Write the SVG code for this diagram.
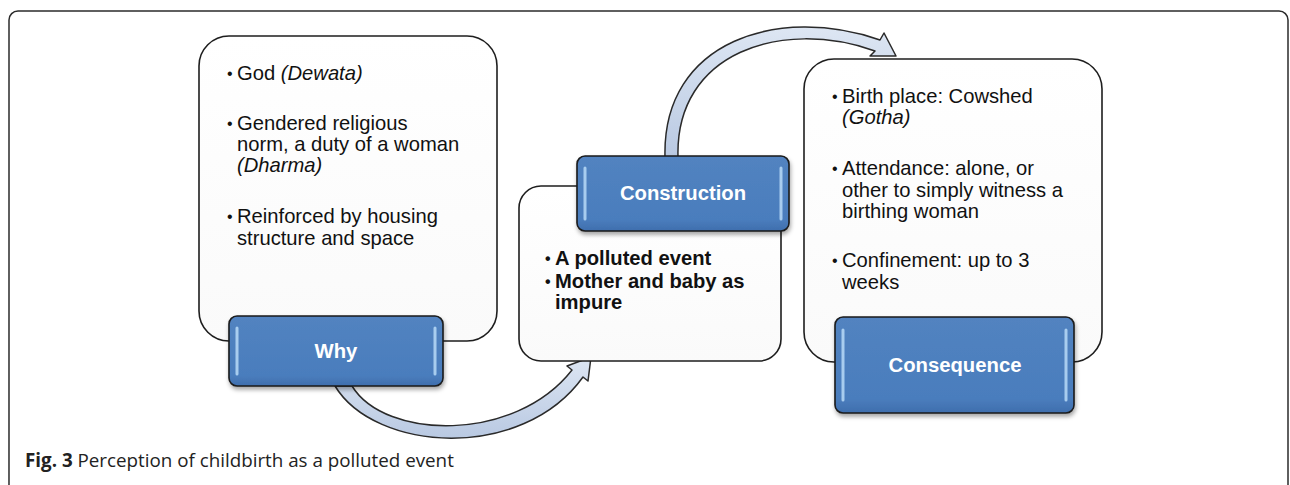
<svg xmlns="http://www.w3.org/2000/svg" width="1290" height="485" viewBox="0 0 1290 485">
<style>
.frame{fill:none;stroke:#2b2b2b;stroke-width:1.5}
.box{fill:url(#boxg);stroke:#1e1e1e;stroke-width:1.6}
.lbl{fill:url(#lblg);stroke:#1a1a1a;stroke-width:1.6;filter:url(#sh)}
.hl{stroke:#bfe0fb;stroke-width:3;stroke-linecap:round;opacity:0.8}
.lt{font-family:"Liberation Sans",Arial,sans-serif;font-weight:bold;font-size:20.3px;fill:#ffffff;text-anchor:middle}
.t{font-family:"Liberation Sans",Arial,sans-serif;font-size:20.2px;fill:#111}
.tb{font-family:"Liberation Sans",Arial,sans-serif;font-size:20.2px;font-weight:bold;fill:#111}
.bu{font-family:"Liberation Sans",Arial,sans-serif;font-size:16px;fill:#111}
.arrow{fill:url(#arrg);stroke:#2a2a2a;stroke-width:1.5;stroke-linejoin:round}
.cap{font-family:"Open Sans","Noto Sans",sans-serif;font-size:18.8px;fill:#222}
</style>
<defs>
<linearGradient id="boxg" x1="0" y1="0" x2="0" y2="1"><stop offset="0" stop-color="#ffffff"/><stop offset="1" stop-color="#fafafa"/></linearGradient>
<linearGradient id="lblg" x1="0" y1="0" x2="0" y2="1"><stop offset="0" stop-color="#5283c0"/><stop offset="0.85" stop-color="#4a7dbd"/><stop offset="1" stop-color="#3f6ead"/></linearGradient>
<linearGradient id="arrg" x1="0" y1="0" x2="0" y2="1"><stop offset="0" stop-color="#dde6f3"/><stop offset="1" stop-color="#b9c9e2"/></linearGradient>
<filter id="sh" x="-10%" y="-10%" width="125%" height="135%"><feDropShadow dx="1" dy="3" stdDeviation="2" flood-color="#000" flood-opacity="0.35"/></filter>
</defs>
<rect class="frame" x="9" y="11" width="1279" height="490" rx="9"/>
<g id="connectors">
<path class="arrow" d="M665,157 C662,40 780,5 880,40 L884,33 L896,56 L870,56 L875,51 C782,18 675,52 678,157 Z"/>
<path class="arrow" d="M335,386 C375,452 522,462 583,377 L588,381 L591,357 L567,366 L572,370 C515,443 385,440 352,386 Z"/>
</g>
<g id="why">
<rect class="box" x="199" y="36" width="298" height="305" rx="30"/>
<text class="bu" x="227" y="79">•</text><text class="t" x="237" y="80">God <tspan font-style="italic">(Dewata)</tspan></text>
<text class="bu" x="227" y="129">•</text><text class="t" x="237" y="130">Gendered religious</text>
<text class="t" x="237" y="151">norm, a duty of a woman</text>
<text class="t" x="237" y="172" font-style="italic">(Dharma)</text>
<text class="bu" x="227" y="222">•</text><text class="t" x="237" y="223">Reinforced by housing</text>
<text class="t" x="237" y="245">structure and space</text>
<rect class="lbl" x="229" y="316" width="214" height="70" rx="8"/>
<line class="hl" x1="237" y1="328" x2="237" y2="374"/><line class="hl" x1="435" y1="328" x2="435" y2="374"/>
<text class="lt" x="336" y="358">Why</text>
</g>
<g id="construction">
<rect class="box" x="519" y="186" width="262" height="175" rx="22"/>
<text class="bu" x="545" y="264" font-weight="bold">•</text><text class="tb" x="555" y="265">A polluted event</text>
<text class="bu" x="545" y="287" font-weight="bold">•</text><text class="tb" x="555" y="288">Mother and baby as</text>
<text class="tb" x="555" y="309">impure</text>
<rect class="lbl" x="577" y="156" width="212" height="75" rx="8"/>
<line class="hl" x1="585" y1="168" x2="585" y2="219"/><line class="hl" x1="781" y1="168" x2="781" y2="219"/>
<text class="lt" x="683" y="200">Construction</text>
</g>
<g id="consequence">
<rect class="box" x="804" y="59" width="298" height="303" rx="30"/>
<text class="bu" x="832" y="102">•</text><text class="t" x="842" y="103">Birth place: Cowshed</text>
<text class="t" x="842" y="124" font-style="italic">(Gotha)</text>
<text class="bu" x="832" y="174">•</text><text class="t" x="842" y="175">Attendance: alone, or</text>
<text class="t" x="842" y="197">other to simply witness a</text>
<text class="t" x="842" y="218">birthing woman</text>
<text class="bu" x="832" y="266">•</text><text class="t" x="842" y="267">Confinement: up to 3</text>
<text class="t" x="842" y="289">weeks</text>
<rect class="lbl" x="835" y="317" width="239" height="96" rx="8"/>
<line class="hl" x1="843" y1="330" x2="843" y2="400"/><line class="hl" x1="1066" y1="330" x2="1066" y2="400"/>
<text class="lt" x="955" y="372">Consequence</text>
</g>
<text class="cap" x="25" y="467"><tspan font-weight="bold">Fig. 3</tspan> Perception of childbirth as a polluted event</text>
</svg>
